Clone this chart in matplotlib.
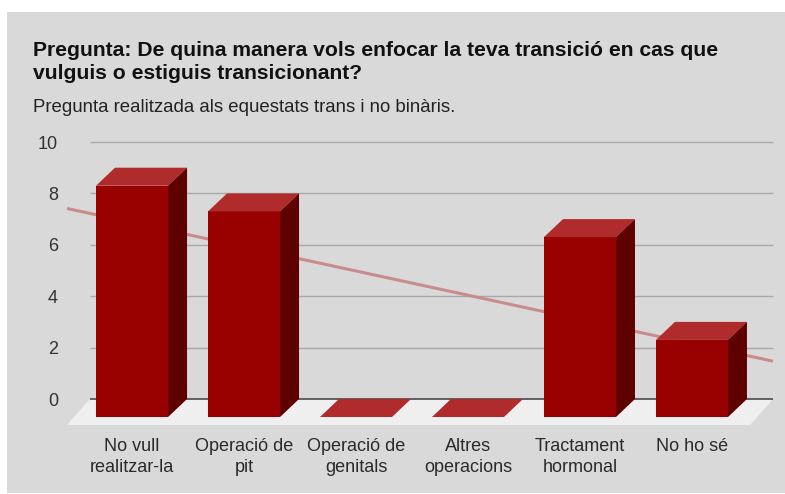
import numpy as np
import matplotlib
matplotlib.use("Agg")
import matplotlib.pyplot as plt
from matplotlib.patches import Polygon, Rectangle

# ---------------- data ----------------
categories = ["No vull\nrealitzar-la", "Operació de\npit", "Operació de\ngenitals",
              "Altres\noperacions", "Tractament\nhormonal", "No ho sé"]
values = [9, 8, 0, 0, 7, 3]
y_ticks = [0, 2, 4, 6, 8, 10]
title_lines = ["Pregunta: De quina manera vols enfocar la teva transició en cas que",
               "vulguis o estiguis transicionant?"]
subtitle = "Pregunta realitzada als equestats trans i no binàris."

plt.rcParams["font.family"] = ["Liberation Sans", "DejaVu Sans"]

W, H = 785, 494
fig = plt.figure(figsize=(W / 100, H / 100), dpi=100, facecolor="white")
fig.patches.append(Rectangle((7 / W, 1 / H), 1 - 7 / W, (493 - 12) / H,
                             transform=fig.transFigure, facecolor="#d9d9d9",
                             edgecolor="none", zorder=-5))

ax = fig.add_axes([90 / W, (H - 399) / H, 683 / W, 257 / H])
ax.set_zorder(1)
ax.patch.set_visible(False)
for s in ax.spines.values():
    s.set_visible(False)
x0, x1 = -0.545, 5.554
ax.set_xlim(x0, x1)
ax.set_ylim(0, 10)

x = np.arange(len(values))
w = 0.643
dxb, dyb = -19 / 112, -18 / 25.7      # bar depth offset (data units)
dxf, dyf = -23 / 112, -26 / 25.7      # floor depth offset

# floor
ax.add_patch(Polygon([(x0, 0), (x1, 0), (x1 + dxf, dyf), (x0 + dxf, dyf)],
                     closed=True, facecolor="#efefef", edgecolor="none",
                     zorder=1, clip_on=False))
# gridlines on back wall
ax.hlines(y_ticks[1:], x0, x1, colors="#a8a8a8", linewidth=1.0, zorder=1.5, clip_on=False)
ax.hlines([0], x0, x1, colors="#4a4a4a", linewidth=1.2, zorder=1.6, clip_on=False)

# trend line
coef = np.polyfit(x, values, 1)
tx = np.array([x0 + dxf, x1])
ax.plot(tx, np.polyval(coef, tx) - 0.15, color="#c98c8c", linewidth=2.2,
        zorder=2, clip_on=False, solid_capstyle="butt")

# bars: front faces through ax.bar, top and side faces as polygons
ax.bar(x + dxb, values, width=w, bottom=dyb, color="#990000", edgecolor="none",
       zorder=3, clip_on=False)
for xi, v in zip(x, values):
    l, r = xi - w / 2, xi + w / 2
    top = [(l + dxb, v + dyb), (r + dxb, v + dyb), (r, v), (l, v)]
    ax.add_patch(Polygon(top, closed=True, facecolor="#b02c2c", edgecolor="none",
                         zorder=3, clip_on=False))
    if v > 0:
        side = [(r + dxb, dyb), (r + dxb, v + dyb), (r, v), (r, 0)]
        ax.add_patch(Polygon(side, closed=True, facecolor="#5e0000", edgecolor="none",
                             zorder=3, clip_on=False))

# axes ticks / labels
ax.set_yticks(y_ticks)
ax.set_yticklabels([str(t) for t in y_ticks])
ax.set_xticks(x + dxb)
ax.set_xticklabels(categories, linespacing=1.3)
ax.tick_params(axis="y", length=0, pad=23, labelsize=13, labelcolor="#333333")
ax.tick_params(axis="x", length=0, pad=28, labelsize=13, labelcolor="#2a2a2a")

# title & subtitle
fig.text(33 / W, 1 - 56 / H, title_lines[0], fontsize=15.25, fontweight="bold",
         color="#111111", va="baseline", ha="left")
fig.text(33 / W, 1 - 79 / H, title_lines[1], fontsize=15.25, fontweight="bold",
         color="#111111", va="baseline", ha="left")
fig.text(33 / W, 1 - 112 / H, subtitle, fontsize=13.45, color="#222222",
         va="baseline", ha="left")

fig.savefig("out.png", dpi=100, facecolor="white")
